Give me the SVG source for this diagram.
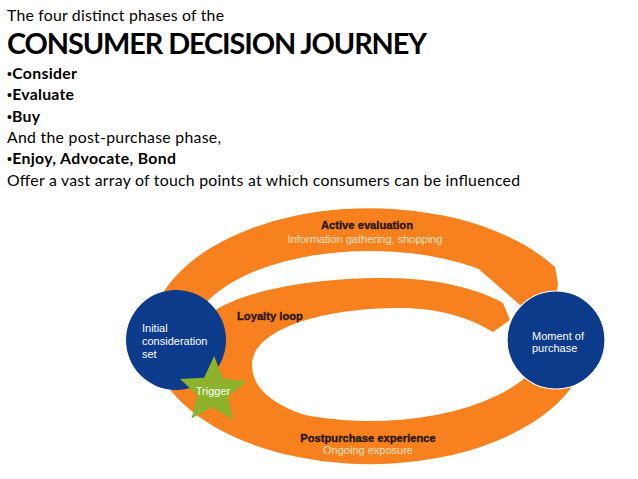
<svg xmlns="http://www.w3.org/2000/svg" width="638" height="479" viewBox="0 0 638 479">
<style>
.hd{font-family:Lato,"Liberation Sans",sans-serif;fill:#000}
.b{font-weight:700}
.bu{font-family:"Liberation Sans",Arial,sans-serif;font-size:14px;font-weight:400}
.band{fill:#F6811E}
.node{fill:#0D3B8C}
.wt{font-family:"Liberation Sans",Arial,sans-serif;font-size:11px;fill:#fff}
.lab{font-family:"Liberation Sans",Arial,sans-serif;font-size:11.2px;font-weight:700;fill:#2a1708;stroke:#2a1708;stroke-width:0.35}
.sub{font-family:"Liberation Sans",Arial,sans-serif;font-size:11px;fill:#FCE2C4}
</style>
<rect width="638" height="479" fill="#fff"/>
<g id="heading">
<text class="hd" x="7" y="21" font-size="15.8" textLength="217">The four distinct phases of the</text>
<text class="hd b" x="7" y="54" font-size="28.9" textLength="420">CONSUMER DECISION JOURNEY</text>
<text class="hd b" x="7" y="79" font-size="15.8" textLength="70"><tspan class="bu">•</tspan>Consider</text>
<text class="hd b" x="7" y="100" font-size="15.8" textLength="67"><tspan class="bu">•</tspan>Evaluate</text>
<text class="hd b" x="7" y="121.5" font-size="15.8" textLength="33"><tspan class="bu">•</tspan>Buy</text>
<text class="hd" x="7" y="142.5" font-size="15.8" textLength="214">And the post-purchase phase,</text>
<text class="hd b" x="7" y="163.5" font-size="15.8" textLength="169"><tspan class="bu">•</tspan>Enjoy, Advocate, Bond</text>
<text class="hd" x="7" y="185.5" font-size="15.8" textLength="513">Offer a vast array of touch points at which consumers can be influenced</text>
</g>
<g id="connectors">
<path id="active-evaluation" class="band" d="M576.8,379.8 A220,128 0 1 1 555,267 L558,283 L556,303 L520,305 L478,268.4 A178,85 0 1 0 537.3,365.1 Z"/>
<path id="loyalty-loop" class="band" d="M198,326 C216,298 290,278 385,278 C440,278 480,290 503,303 L510,320 L493,332 C470,318 440,308 400,308 C320,308 252,330 252,365 C252,400 300,422 385,430 L190,405 Z"/>
</g>
<g id="labels">
<text class="lab" x="367" y="229" text-anchor="middle">Active evaluation</text>
<text class="sub" x="365" y="243" text-anchor="middle">Information gathering, shopping</text>
<text class="lab" x="237" y="320">Loyalty loop</text>
<text class="lab" x="368" y="442" text-anchor="middle">Postpurchase experience</text>
<text class="sub" x="368" y="454" text-anchor="middle">Ongoing exposure</text>
</g>
<g id="initial-consideration-set">
<circle class="node" cx="176" cy="340" r="50"/>
<text class="wt" x="142" y="332">Initial</text>
<text class="wt" x="142" y="345">consideration</text>
<text class="wt" x="142" y="358">set</text>
</g>
<g id="moment-of-purchase">
<circle class="node" cx="556" cy="340" r="49" stroke="#fff" stroke-width="1.2"/>
<text class="wt" x="532" y="340">Moment of</text>
<text class="wt" x="532" y="352">purchase</text>
</g>
<g id="trigger">
<polygon fill="#8DB22B" points="214.2,356 222.9,378.4 246.6,381.4 228,396.5 232.6,420 212.4,407 191.5,418.6 197.6,395.4 180.1,379 204.1,377.7"/>
<text class="wt" x="213" y="395" text-anchor="middle" font-size="10.5">Trigger</text>
</g>
</svg>
